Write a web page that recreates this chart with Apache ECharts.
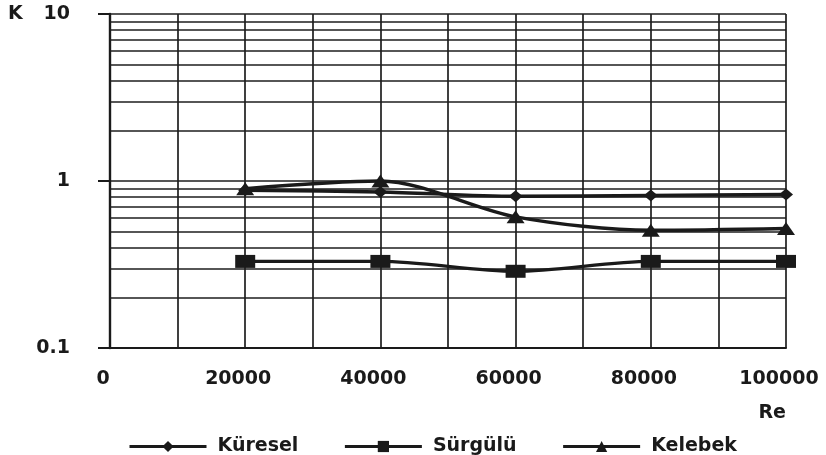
<!DOCTYPE html>
<html>
<head>
<meta charset="utf-8">
<script src="https://cdn.jsdelivr.net/npm/echarts@6/dist/echarts.min.js"></script>
<style>
  html, body { margin: 0; padding: 0; background: #fff; }
  #chart { width: 826px; height: 455px; }
</style>
</head>
<body>
<div id="chart"></div>
<script>
// Reynolds numbers at which the valves were measured
const reynolds = [20000, 40000, 60000, 80000, 100000];

// Loss coefficient K per valve type
const kuresel = [0.88, 0.86, 0.81, 0.82, 0.83];
const surgulu = [0.33, 0.33, 0.288, 0.33, 0.33];
const kelebek = [0.90, 1.00, 0.61, 0.507, 0.52];

const seriesNames = ['Küresel', 'Sürgülü', 'Kelebek'];

// Axis tick labels
const xTickLabels = ['0', '20000', '40000', '60000', '80000', '100000'];
const yTickLabels = ['0.1', '1', '10'];

// Intermediate log-scale grid values (2..9 in each decade)
const minorGridValues = [0.2, 0.3, 0.4, 0.5, 0.6, 0.7, 0.8, 0.9,
                         2, 3, 4, 5, 6, 7, 8, 9];

const ink = '#1a1a1a';
const gridInk = '#1e1e1e';
const gridWidth = 1.7;
const font = { fontFamily: 'DejaVu Sans', fontWeight: 'bold', fontSize: 19, color: ink };

function pairs(values) {
  return reynolds.map((x, i) => [x, values[i]]);
}

const chart = echarts.init(document.getElementById('chart'), null, { renderer: 'canvas' });

const lineBase = {
  type: 'line',
  smooth: 0.3,
  z: 3,
  lineStyle: { color: ink, width: 3.4 },
  itemStyle: { color: ink, borderWidth: 0 },
  emphasis: { disabled: true }
};

chart.setOption({
  animation: false,
  backgroundColor: '#fff',
  grid: { left: 110, right: 40, top: 14, bottom: 107 },
  graphic: [{
    type: 'text',
    left: 8,
    top: 5,
    style: {
      text: 'K', fill: ink,
      fontFamily: font.fontFamily, fontWeight: font.fontWeight, fontSize: font.fontSize
    }
  }],
  legend: {
    data: seriesNames,
    left: 123,
    top: 432,
    itemWidth: 77,
    itemHeight: 14,
    itemGap: 45,
    lineStyle: { width: 3, color: ink },
    textStyle: Object.assign({}, font, { width: 100, padding: [0, 0, 0, 6] }),
    selectedMode: false
  },
  xAxis: {
    type: 'value',
    min: 0,
    max: 100000,
    interval: 10000,
    name: 'Re',
    nameLocation: 'end',
    nameGap: 0,
    nameTextStyle: Object.assign({}, font, {
      align: 'right', verticalAlign: 'top', padding: [56, 0, 0, 0]
    }),
    axisLine: { show: true, onZero: false, lineStyle: { color: ink, width: 2 } },
    axisTick: { show: false },
    axisLabel: Object.assign({}, font, {
      margin: 22,
      padding: [0, 14, 0, 0],
      formatter: v => {
        const idx = xTickLabels.indexOf(String(v));
        return idx >= 0 ? xTickLabels[idx] : '';
      }
    }),
    splitLine: { show: true, lineStyle: { color: gridInk, width: gridWidth } }
  },
  yAxis: {
    type: 'log',
    logBase: 10,
    min: 0.1,
    max: 10,
    axisLine: { show: true, lineStyle: { color: ink, width: 2.4 } },
    axisTick: { show: true, length: 12, lineStyle: { color: ink, width: 2 } },
    axisLabel: Object.assign({}, font, {
      margin: 40,
      formatter: v => {
        const s = String(+v.toPrecision(3));
        return yTickLabels.includes(s) ? s : '';
      }
    }),
    splitLine: { show: true, lineStyle: { color: gridInk, width: gridWidth } }
  },
  series: [
    {
      name: '__grid',
      type: 'line',
      data: [],
      silent: true,
      markLine: {
        silent: true,
        z: 1,
        symbol: 'none',
        label: { show: false },
        lineStyle: { color: gridInk, width: gridWidth, type: 'solid' },
        data: minorGridValues.map(v => ({ yAxis: v }))
      }
    },
    Object.assign({}, lineBase, {
      name: seriesNames[0],
      symbol: 'diamond',
      symbolSize: [14, 12],
      data: pairs(kuresel)
    }),
    Object.assign({}, lineBase, {
      name: seriesNames[1],
      symbol: 'rect',
      symbolSize: [20, 13],
      data: pairs(surgulu)
    }),
    Object.assign({}, lineBase, {
      name: seriesNames[2],
      symbol: 'triangle',
      symbolSize: [18, 13],
      data: pairs(kelebek)
    })
  ]
});
</script>
</body>
</html>
